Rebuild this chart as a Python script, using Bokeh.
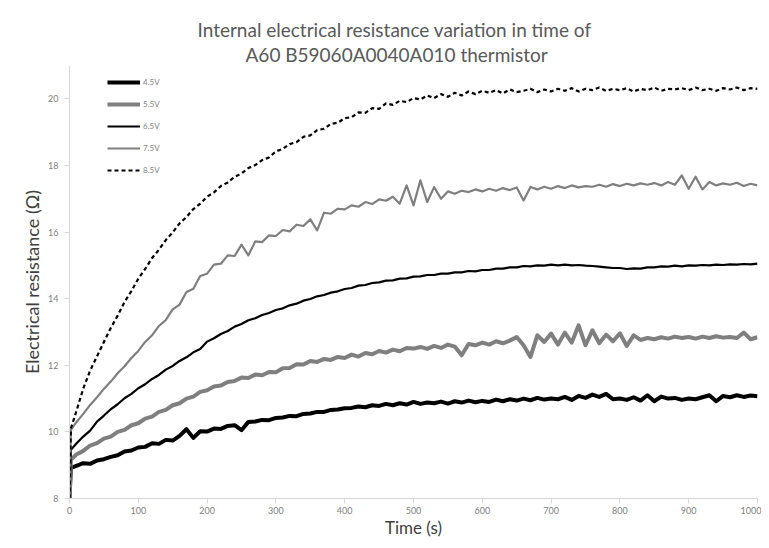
from bokeh.plotting import figure
from bokeh.models import Range1d, Legend, LegendItem, Title, FixedTicker
from bokeh.embed import file_html
from bokeh.resources import INLINE

# ---- data ----
time_s = [0, 2] + list(range(10, 1001, 10))

r_45 = [8.00, 8.92, 8.98, 9.06, 9.04, 9.14, 9.18, 9.25, 9.30, 9.41, 9.44, 9.53,
        9.55, 9.66, 9.64, 9.76, 9.74, 9.88, 10.08, 9.82, 10.02, 10.01,
        10.10, 10.09, 10.18, 10.20, 10.05, 10.30, 10.31, 10.36, 10.35, 10.42,
        10.43, 10.48, 10.47, 10.54, 10.55, 10.60, 10.60, 10.66, 10.67, 10.71,
        10.72, 10.76, 10.74, 10.80, 10.78, 10.84, 10.80, 10.86, 10.82, 10.90,
        10.84, 10.88, 10.86, 10.91, 10.85, 10.92, 10.88, 10.94, 10.89, 10.93,
        10.90, 10.97, 10.92, 10.98, 10.94, 11.00, 10.95, 11.02, 10.97, 11.00,
        10.98, 11.05, 10.96, 11.08, 11.02, 11.12, 11.05, 11.14, 10.98, 11.00,
        10.96, 11.04, 10.94, 11.10, 10.92, 11.06, 11.00, 11.02, 10.96, 11.00,
        10.98, 11.04, 11.10, 10.92, 11.08, 11.04, 11.10, 11.05, 11.09, 11.07]

r_55 = [8.00, 9.16, 9.32, 9.43, 9.59, 9.66, 9.80, 9.86, 10.00, 10.06, 10.20, 10.26,
        10.40, 10.46, 10.60, 10.66, 10.80, 10.86, 11.00, 11.06, 11.20, 11.25,
        11.36, 11.39, 11.50, 11.53, 11.63, 11.62, 11.72, 11.70, 11.80, 11.79,
        11.91, 11.92, 12.03, 12.02, 12.13, 12.10, 12.19, 12.16, 12.25, 12.22,
        12.32, 12.26, 12.37, 12.33, 12.43, 12.38, 12.47, 12.42, 12.52, 12.50,
        12.55, 12.49, 12.58, 12.52, 12.62, 12.56, 12.30, 12.64, 12.60, 12.68,
        12.62, 12.72, 12.66, 12.74, 12.85, 12.60, 12.25, 12.90, 12.70, 12.95,
        12.62, 12.98, 12.68, 13.20, 12.60, 13.05, 12.66, 12.92, 12.72, 12.96,
        12.58, 12.90, 12.76, 12.82, 12.78, 12.84, 12.80, 12.86, 12.82, 12.85,
        12.80, 12.86, 12.82, 12.87, 12.83, 12.85, 12.82, 12.98, 12.78, 12.84]

r_65 = [8.00, 9.46, 9.65, 9.86, 10.04, 10.31, 10.49, 10.68, 10.83, 11.01, 11.14, 11.31,
        11.43, 11.59, 11.71, 11.87, 11.98, 12.13, 12.24, 12.39, 12.49, 12.71,
        12.81, 12.94, 13.03, 13.16, 13.24, 13.35, 13.41, 13.51, 13.57, 13.66,
        13.71, 13.80, 13.85, 13.94, 13.99, 14.07, 14.11, 14.18, 14.22, 14.29,
        14.32, 14.39, 14.41, 14.47, 14.49, 14.54, 14.55, 14.60, 14.61, 14.66,
        14.67, 14.71, 14.71, 14.75, 14.75, 14.79, 14.79, 14.83, 14.82, 14.86,
        14.86, 14.90, 14.90, 14.94, 14.94, 14.98, 14.97, 15.00, 14.99, 15.02,
        15.00, 15.02, 15.00, 15.01, 14.99, 14.98, 14.96, 14.94, 14.92, 14.92,
        14.89, 14.91, 14.90, 14.94, 14.94, 14.97, 14.96, 14.99, 14.97, 15.00,
        14.99, 15.01, 15.00, 15.02, 15.01, 15.03, 15.02, 15.04, 15.03, 15.05]

r_75 = [8.00, 10.06, 10.29, 10.54, 10.81, 11.04, 11.29, 11.51, 11.76, 11.97, 12.22, 12.43,
        12.70, 12.90, 13.18, 13.36, 13.68, 13.82, 14.20, 14.30, 14.68, 14.75,
        15.02, 15.05, 15.30, 15.28, 15.62, 15.30, 15.72, 15.70, 15.90, 15.88,
        16.06, 16.02, 16.22, 16.18, 16.38, 16.05, 16.58, 16.55, 16.70, 16.68,
        16.80, 16.76, 16.90, 16.84, 16.98, 16.94, 17.06, 16.85, 17.40, 16.80,
        17.55, 16.90, 17.35, 17.00, 17.22, 17.15, 17.24, 17.20, 17.28, 17.22,
        17.30, 17.24, 17.32, 17.26, 17.34, 16.95, 17.35, 17.28, 17.36, 17.30,
        17.38, 17.32, 17.40, 17.34, 17.38, 17.36, 17.42, 17.36, 17.44, 17.38,
        17.45, 17.40, 17.46, 17.42, 17.47, 17.40, 17.50, 17.42, 17.70, 17.30,
        17.66, 17.28, 17.50, 17.40, 17.46, 17.42, 17.48, 17.38, 17.45, 17.40]

r_85 = [8.00, 10.10, 10.62, 11.30, 11.84, 12.27, 12.70, 13.12, 13.49, 13.90, 14.23, 14.60,
        14.89, 15.22, 15.47, 15.76, 15.99, 16.26, 16.45, 16.69, 16.85, 17.06,
        17.19, 17.38, 17.49, 17.66, 17.76, 17.92, 18.01, 18.16, 18.24, 18.42,
        18.50, 18.64, 18.70, 18.86, 18.90, 19.06, 19.10, 19.25, 19.28, 19.42,
        19.45, 19.59, 19.58, 19.72, 19.70, 19.86, 19.82, 19.94, 19.90, 20.02,
        19.98, 20.10, 20.02, 20.14, 20.06, 20.18, 20.10, 20.22, 20.14, 20.24,
        20.18, 20.26, 20.16, 20.28, 20.20, 20.24, 20.30, 20.20, 20.28, 20.22,
        20.30, 20.24, 20.32, 20.22, 20.30, 20.26, 20.34, 20.24, 20.30, 20.26,
        20.32, 20.22, 20.30, 20.26, 20.34, 20.24, 20.30, 20.28, 20.32, 20.26,
        20.34, 20.26, 20.30, 20.24, 20.32, 20.28, 20.34, 20.26, 20.32, 20.30]

series_labels = ["4.5V", "5.5V", "6.5V", "7.5V", "8.5V"]
title_lines = ["Internal electrical resistance variation in time of",
               "A60 B59060A0040A010 thermistor"]
x_ticks = [0, 100, 200, 300, 400, 500, 600, 700, 800, 900, 1000]
y_ticks = [8, 10, 12, 14, 16, 18, 20]

FONT = "Lato"

p = figure(width=761, height=540, output_backend="svg", toolbar_location=None,
           x_range=Range1d(0, 1000), y_range=Range1d(8, 21),
           min_border_left=69, min_border_right=4, min_border_top=65,
           min_border_bottom=41)
p.outline_line_color = None
p.xgrid.grid_line_color = None
p.ygrid.grid_line_color = None
p.background_fill_color = "white"
p.border_fill_color = "white"

styles = [
    dict(color="#000000", width=4.0, dash="solid"),
    dict(color="#7f7f7f", width=4.0, dash="solid"),
    dict(color="#000000", width=2.2, dash="solid"),
    dict(color="#7f7f7f", width=2.2, dash="solid"),
    dict(color="#000000", width=2.2, dash="4 3"),
]
data = [r_45, r_55, r_65, r_75, r_85]
items = []
for lab, ys, st in zip(series_labels, data, styles):
    r = p.line(time_s, ys, line_color=st["color"], line_width=st["width"],
               line_dash=st["dash"], line_join="round")
    items.append(LegendItem(label=lab, renderers=[r]))

legend = Legend(items=items, location=(38, 318), glyph_width=33, glyph_height=20,
                label_height=20, spacing=2, padding=0, margin=0,
                label_standoff=3, label_text_font=FONT, label_text_font_size="8px",
                label_text_color="#7f7f7f", border_line_color=None,
                background_fill_alpha=0)
p.add_layout(legend, "center")

for ax in (p.xaxis, p.yaxis):
    ax.axis_line_color = "#d9d9d9"
    ax.major_tick_line_color = "#d9d9d9"
    ax.minor_tick_line_color = None
    ax.major_tick_in = 0
    ax.major_tick_out = 5
    ax.major_label_text_font = FONT
    ax.major_label_text_font_size = "9px"
    ax.major_label_text_color = "#808080"
    ax.axis_label_text_font = FONT
    ax.axis_label_text_font_style = "normal"
    ax.axis_label_text_color = "#404040"

p.xaxis.ticker = FixedTicker(ticks=x_ticks)
p.yaxis.ticker = FixedTicker(ticks=y_ticks)
p.xaxis.axis_label = "Time (s)"
p.yaxis.axis_label = "Electrical resistance (Ω)"
p.xaxis.axis_label_text_font_size = "17px"
p.yaxis.axis_label_text_font_size = "18px"
p.xaxis.major_label_standoff = 3
p.yaxis.major_label_standoff = 6
p.xaxis.axis_label_standoff = 0
p.yaxis.axis_label_standoff = 2

# two title lines; the later one added sits farther from the frame
p.add_layout(Title(text=title_lines[1], align="left", offset=176, standoff=0,
                   text_font=FONT, text_font_size="19px", text_font_style="normal",
                   text_color="#595959"), "above")
p.add_layout(Title(text=title_lines[0], align="left", offset=128, standoff=0,
                   text_font=FONT, text_font_size="19px", text_font_style="normal",
                   text_color="#595959"), "above")

open("out.html", "w").write(file_html(p, INLINE))
